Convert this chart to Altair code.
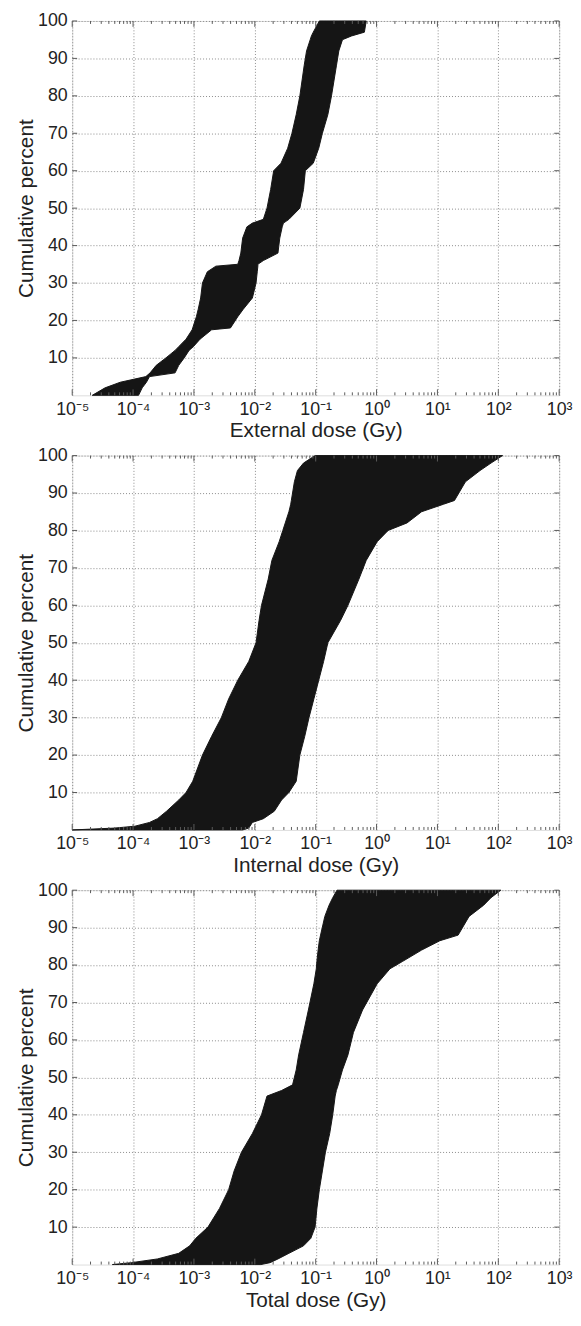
import altair as alt
import pandas as pd

# ---- Panel 1: external dose (cumulative percent vs. log10 dose envelope) ----
ext_pct = [0, 2, 3.5, 5, 6, 8, 10, 12, 13, 15, 17.5, 18, 21, 23, 26, 30, 33, 34.5, 35, 36,
           38, 42, 45, 46, 47, 50, 55, 60, 62, 66, 70, 75, 80, 88, 92, 95, 96, 97, 100]
ext_lo_exp = [-4.67, -4.46, -4.21, -3.79, -3.72, -3.62, -3.46, -3.31, -3.25, -3.13,
              -3.03, -3.02, -2.96, -2.93, -2.89, -2.86, -2.78, -2.64, -2.28, -2.26,
              -2.23, -2.20, -2.13, -2.04, -1.86, -1.80, -1.74, -1.69, -1.57, -1.46,
              -1.39, -1.32, -1.26, -1.19, -1.15, -1.09, -1.07, -1.04, -0.94]
ext_hi_exp = [-3.91, -3.85, -3.78, -3.73, -3.31, -3.25, -3.16, -3.08, -3.01, -2.90,
              -2.71, -2.40, -2.28, -2.19, -2.04, -1.98, -1.96, -1.95, -1.95, -1.86,
              -1.62, -1.59, -1.55, -1.53, -1.44, -1.26, -1.20, -1.17, -1.04, -0.95,
              -0.89, -0.80, -0.74, -0.66, -0.62, -0.56, -0.41, -0.20, -0.17]

# ---- Panel 2: internal dose ----
int_pct = [0, 0.5, 1, 2, 3, 5, 8, 10, 13, 20, 25, 30, 35, 40, 45, 50, 56, 60, 67, 72,
           77, 80, 82, 85, 87, 88, 93, 96, 98, 100]
int_lo_exp = [-5.0, -4.3, -3.97, -3.73, -3.60, -3.45, -3.25, -3.13, -3.02, -2.86,
              -2.71, -2.55, -2.43, -2.28, -2.10, -1.98, -1.93, -1.89, -1.78, -1.72,
              -1.60, -1.54, -1.50, -1.44, -1.41, -1.40, -1.35, -1.30, -1.20, -1.01]
int_hi_exp = [-2.2, -2.1, -2.08, -2.04, -1.86, -1.68, -1.56, -1.44, -1.32, -1.26,
              -1.18, -1.11, -1.03, -0.95, -0.87, -0.80, -0.59, -0.47, -0.29, -0.17,
              0.01, 0.19, 0.50, 0.74, 1.10, 1.28, 1.46, 1.70, 1.88, 2.07]

# ---- Panel 3: total dose ----
tot_pct = [0, 0.5, 1.5, 3, 5, 7, 10, 15, 20, 25, 30, 35, 40, 45, 46.5, 48, 52, 56, 62, 68,
           75, 79, 81, 84, 86.5, 88, 93, 96, 98, 100]
tot_lo_exp = [-4.34, -4.03, -3.60, -3.25, -3.07, -2.97, -2.77, -2.58, -2.43, -2.34,
              -2.22, -2.04, -1.89, -1.80, -1.56, -1.38, -1.32, -1.28, -1.20, -1.12,
              -1.03, -0.99, -0.98, -0.96, -0.94, -0.92, -0.85, -0.78, -0.72, -0.65]
tot_hi_exp = [-1.9, -1.75, -1.62, -1.44, -1.20, -1.08, -1.01, -0.98, -0.94, -0.89,
              -0.84, -0.77, -0.72, -0.68, -0.66, -0.63, -0.56, -0.47, -0.38, -0.23,
              0.01, 0.22, 0.43, 0.74, 1.04, 1.34, 1.52, 1.76, 1.88, 2.04]

x_major = [1e-5, 1e-4, 1e-3, 1e-2, 1e-1, 1e0, 1e1, 1e2, 1e3]
x_minor = [m * d for d in x_major[:-1] for m in range(2, 10)]
y_ticks = [10, 20, 30, 40, 50, 60, 70, 80, 90, 100]

FONT = "Liberation Sans"
INK = "#222222"
FRAME = "#5a5a5a"
W, H = 493, 379

x_scale = alt.Scale(type="log", domain=[1e-5, 1e3], nice=False)
y_scale = alt.Scale(domain=[0, 100], nice=False, zero=False)

label_expr = ("'10' + ['\u207b\u2075','\u207b\u2074','\u207b\u00b3','\u207b\u00b2','\u207b\u00b9',"
              "'\u2070','\u00b9','\u00b2','\u00b3'][round(log(datum.value)/LN10)+5]")

xmaj_df = pd.DataFrame({"v": x_major})
xmin_df = pd.DataFrame({"v": x_minor})
ytk_df = pd.DataFrame({"v": y_ticks})


def make_df(pct, lo, hi):
    return pd.DataFrame({
        "pct": pct,
        "lo": [10 ** v for v in lo],
        "hi": [10 ** v for v in hi],
    })


def xticks(df, size):
    rule = alt.Chart(df).mark_rule(color=FRAME, strokeWidth=1)
    xe = alt.X("v:Q", scale=x_scale, axis=None)
    return [rule.encode(x=xe, y=alt.value(H), y2=alt.value(H - size)),
            rule.encode(x=xe, y=alt.value(0), y2=alt.value(size))]


def yticks(size):
    rule = alt.Chart(ytk_df).mark_rule(color=FRAME, strokeWidth=1)
    ye = alt.Y("v:Q", scale=y_scale, axis=None)
    return [rule.encode(y=ye, x=alt.value(0), x2=alt.value(size)),
            rule.encode(y=ye, x=alt.value(W), x2=alt.value(W - size))]


def panel(df, xtitle):
    yaxis = alt.Axis(
        values=y_ticks, title="Cumulative percent", grid=True, gridDash=[1, 2],
        gridColor="#8a8a8a", gridWidth=1, ticks=False, domain=False,
        labelFontSize=18, titleFontSize=21, labelPadding=5, titlePadding=1,
        labelFont=FONT, titleFont=FONT, labelColor=INK, titleColor=INK,
        titleFontWeight="normal")
    xaxis = alt.Axis(
        values=x_major, labelExpr=label_expr, title=xtitle, grid=True,
        gridDash=[1, 2], gridColor="#8a8a8a", gridWidth=1, ticks=False,
        domain=False, labelFontSize=18, titleFontSize=21, labelPadding=5,
        titlePadding=2, labelFont=FONT, titleFont=FONT, labelColor=INK,
        titleColor=INK, titleFontWeight="normal", labelOverlap=False,
        labelFlush=False)

    band = alt.Chart(df).mark_area(orient="horizontal", color="#151515",
                                   stroke="#151515", strokeWidth=1).encode(
        y=alt.Y("pct:Q", scale=y_scale, axis=yaxis),
        x=alt.X("lo:Q", scale=x_scale, axis=xaxis, stack=None),
        x2="hi:Q",
    )
    layers = [band] + xticks(xmaj_df, 6) + xticks(xmin_df, 3) + yticks(5)
    return alt.layer(*layers).properties(width=W, height=H).resolve_axis(
        x="independent", y="independent")


p1 = panel(make_df(ext_pct, ext_lo_exp, ext_hi_exp), "External dose (Gy)")
p2 = panel(make_df(int_pct, int_lo_exp, int_hi_exp), "Internal dose (Gy)")
p3 = panel(make_df(tot_pct, tot_lo_exp, tot_hi_exp), "Total dose (Gy)")

chart = alt.vconcat(p1, p2, p3, spacing=4).properties(
    padding={"left": 7, "top": -5, "right": 0, "bottom": 0}
).configure_view(stroke=FRAME, strokeWidth=1.5).configure(background="white")

chart.save("out.html", embed_options={"renderer": "svg", "actions": False})
